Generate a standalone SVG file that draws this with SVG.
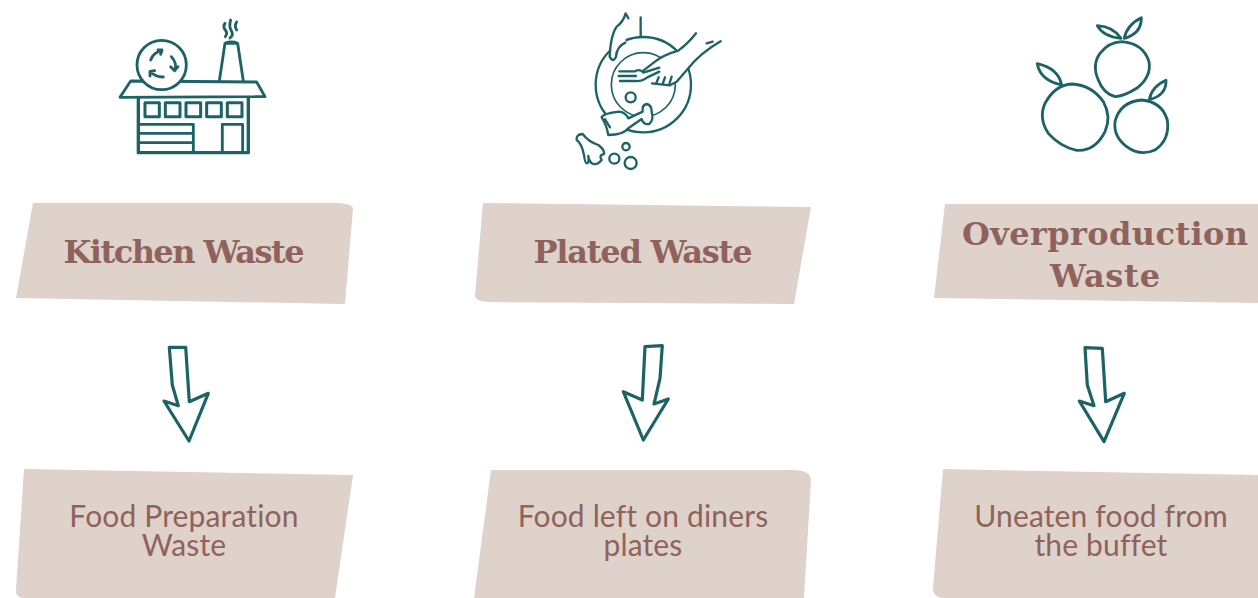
<svg xmlns="http://www.w3.org/2000/svg" width="1258" height="598" viewBox="0 0 1258 598">
<style>
.panel{fill:#dfd2cb}
.head{font-family:"DejaVu Serif","Liberation Serif",serif;font-weight:700;font-size:32px;fill:#8f635c;text-anchor:middle}
.sub{font-family:"Lato","Open Sans",sans-serif;font-size:30px;letter-spacing:.15px;fill:#8f635c;text-anchor:middle}
.ink{fill:none;stroke:#1c6366;stroke-linejoin:round;stroke-linecap:round}
.ic{stroke-width:8.5}
.th{stroke-width:7}
.ar{stroke-width:3.2}
.w{fill:#fff}
</style>
<rect width="1258" height="598" fill="#fff"/>
<g id="icon-factory" class="ink ic" transform="translate(100 0) scale(.3333)">
<path d="M92 243L470 246L495 290L60 292Z"/>
<circle class="w" cx="185" cy="195" r="74"/>
<path d="M152 180Q160 158 184 152M174 150L186 150L182 163M214 170Q232 190 225 211M212 200L224 212L234 200M190 231Q168 232 152 216M150 228L150 214L164 212"/>
<path d="M358 243L375 130L413 130L430 243M375 130Q394 122 413 130"/>
<path d="M375 70Q368 80 376 90T376 110M392 60Q386 80 394 92T390 114M410 66Q402 78 410 90"/>
<path d="M115 292L115 458L445 458L445 292" style="stroke-width:10"/>
<path d="M135 308H178V350H135ZM196 308H240V350H196ZM258 308H302V350H258ZM320 308H364V350H320ZM382 308H426V350H382Z" style="stroke-width:9"/>
<path d="M115 373H280V458M115 400H280M115 428H280"/>
<path d="M367 455V373H428V455"/>
</g>
<g id="icon-plate" class="ink th" transform="translate(560 0) scale(.3333)">
<circle cx="250" cy="254" r="143"/>
<circle cx="250" cy="254" r="96" style="stroke-width:5"/>
<path class="w" d="M197 40Q190 65 170 80Q152 105 149 170Q160 190 168 170Q170 140 196 128Z" style="stroke:none"/>
<path class="w" d="M197 40Q190 65 170 80Q152 105 149 170Q160 190 168 170Q170 140 196 128"/>
<path d="M242 52V110M200 45L205 55"/>
<path class="w" d="M408 100Q385 130 355 152Q310 165 285 185L250 212L262 232L276 252L330 256L350 245L385 205Q420 160 482 124L440 130Z" style="stroke:none"/>
<path d="M408 100Q385 130 355 152Q310 165 285 185L250 212M482 124Q420 160 385 205L350 245L330 256L276 250M440 130L458 125"/>
<path d="M178 214H225Q240 205 250 218L298 203M176 228H228M180 243H225Q245 245 262 232L298 215M335 230L328 252M315 232L308 252M296 232L288 252"/>
<circle cx="212" cy="292" r="15"/>
<path class="w" d="M125 352Q130 340 178 335Q198 338 205 355L248 335Q245 315 260 312Q275 315 275 335Q282 360 268 372Q250 375 245 357L205 385Q190 405 145 405Q140 375 125 352Z"/>
<path d="M135 358L150 382"/>
<path d="M50 420Q48 403 68 402Q85 425 115 435Q135 450 132 462Q115 465 125 480Q110 498 95 490Q85 480 85 468Q88 490 80 490Q75 490 72 465Q65 430 50 420Z"/>
<circle cx="198" cy="440" r="11"/><circle cx="163" cy="476" r="15"/><circle cx="212" cy="489" r="18"/>
</g>
<g id="icon-fruit" class="ink ic" transform="translate(1020 5) scale(.3333)">
<path d="M155 237Q215 240 250 290Q275 335 255 380Q225 440 170 436Q120 425 85 385Q55 340 75 295Q105 240 155 237Z"/>
<path d="M125 240Q115 190 52 176Q60 225 125 240Z"/>
<path d="M305 110Q370 115 387 170Q395 215 350 250Q310 275 285 275Q250 265 235 225Q215 180 240 145Q265 112 305 110Z"/>
<path d="M303 100Q280 65 232 62Q250 95 303 100ZM313 100Q320 60 364 38Q365 85 313 100Z"/>
<path d="M365 285Q425 290 442 345Q450 405 405 435Q360 455 320 425Q280 395 285 350Q300 290 365 285Z"/>
<path d="M388 284Q395 245 438 226Q440 270 388 284Z"/>
</g>
<g id="node-kitchen-waste"><path class="panel" d="M33 203L338 203Q353 204 353 209L345 304L16 298Z"/><text class="head" x="184" y="263" textLength="241" lengthAdjust="spacing">Kitchen Waste</text></g>
<g id="node-plated-waste"><path class="panel" d="M483 203L811 207L794 304L488 302Q475 301 475 296Z"/><text class="head" x="643" y="263" textLength="219" lengthAdjust="spacing">Plated Waste</text></g>
<g id="node-overproduction-waste"><path class="panel" d="M945 204L1258 204L1258 303L934 298Z"/><text class="head"><tspan x="1105" y="245" textLength="286" lengthAdjust="spacing">Overproduction</tspan><tspan x="1105" y="287" textLength="110" lengthAdjust="spacing">Waste</tspan></text></g>
<g id="node-food-preparation"><path class="panel" d="M24 469L353 475L335 598L24 598Q15 598 16 590Z"/><text class="sub"><tspan x="184" y="527">Food Preparation</tspan><tspan x="184" y="556">Waste</tspan></text></g>
<g id="node-food-left"><path class="panel" d="M491 470L795 470Q811 471 811 480L804 598L474 598Z"/><text class="sub"><tspan x="643" y="527">Food left on diners</tspan><tspan x="643" y="556">plates</tspan></text></g>
<g id="node-uneaten"><path class="panel" d="M943 469L1258 475L1258 598L945 598Q933 598 933 588Z"/><text class="sub"><tspan x="1101" y="527">Uneaten food from</tspan><tspan x="1101" y="556">the buffet</tspan></text></g>
<g id="connectors" class="ink ar">
<path id="arrow-1" d="M169.3 347.3L185.7 347.3L189.3 401.7L208.3 393.3L189 441L164 401L178.3 405.7L172.3 385Z"/>
<path id="arrow-2" d="M645 346.7L662.3 345.7L660 378.3L654 404L668.3 399L643.3 440L623.3 391.7L642.3 400Z"/>
<path id="arrow-3" d="M1085 347.7L1102.3 348.3L1105.7 401.7L1124.3 393.3L1104 441.7L1079.3 401L1094 405.7L1087.3 385Z"/>
</g>
</svg>
